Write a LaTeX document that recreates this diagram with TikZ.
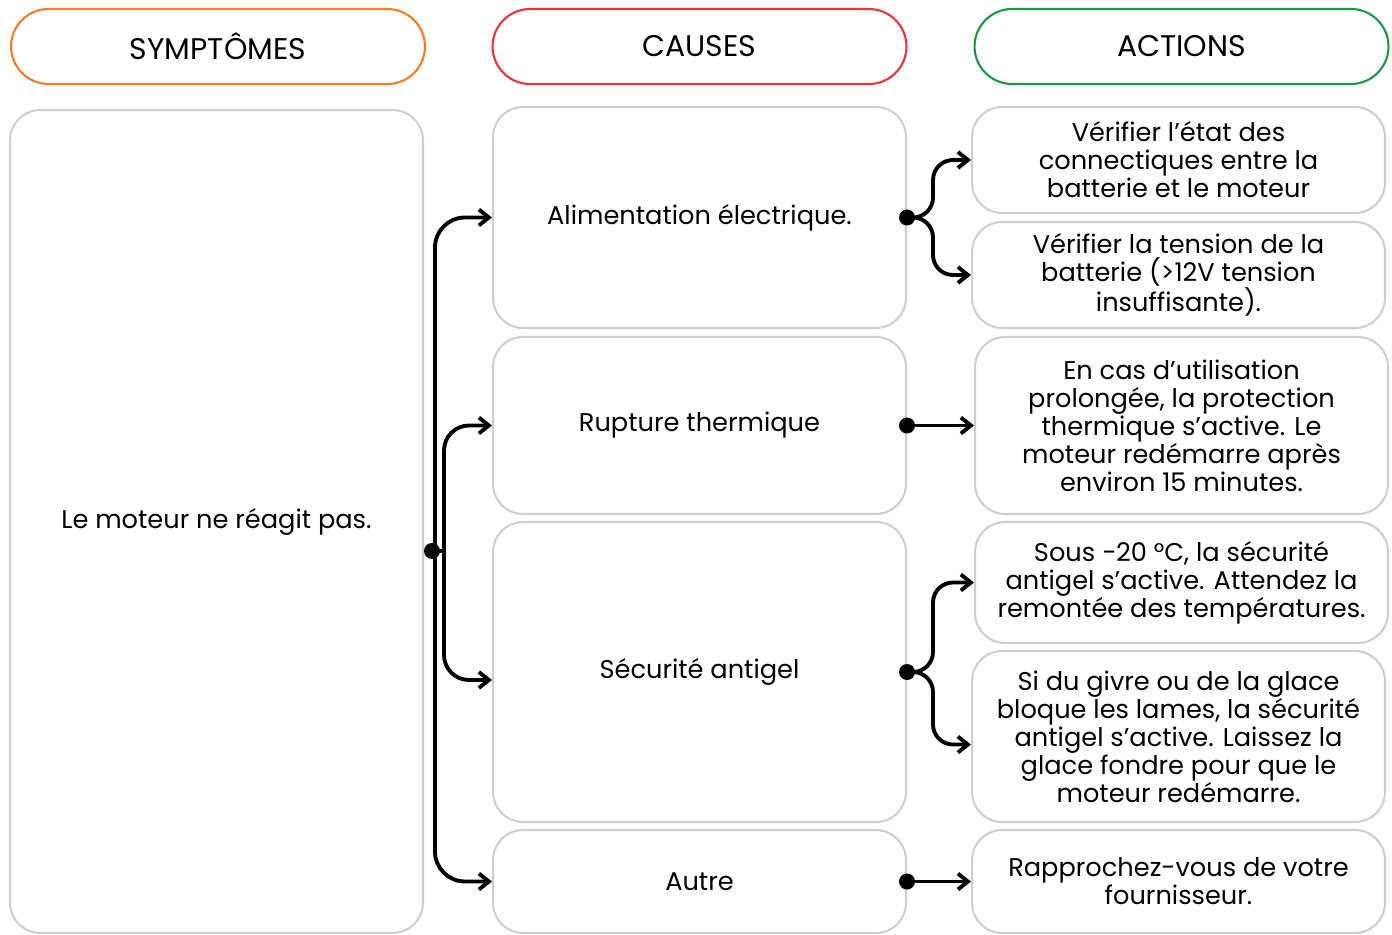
\documentclass[tikz,border=0pt]{standalone}
\usepackage{fontspec}
\setmainfont{Poppins}
\usetikzlibrary{arrows.meta}
\definecolor{symorange}{RGB}{245,125,40}
\definecolor{causered}{RGB}{232,52,58}
\definecolor{actgreen}{RGB}{28,150,72}
\definecolor{boxgrey}{RGB}{205,205,212}

\begin{document}
\begin{tikzpicture}[x=0.02cm,y=-0.02cm,
  txt/.style={font=\fontsize{14.6}{15.9}\selectfont, align=center, inner sep=0pt},
  head/.style={rectangle, font=\fontsize{17}{20}\selectfont, line width=1.2pt, rounded corners=0.75cm, minimum width=8.28cm, minimum height=1.5cm},
  box/.style={txt, rectangle, draw=boxgrey, line width=1.2pt, rounded corners=0.6cm, minimum width=8.26cm},
  dot/.style={circle, fill=black, inner sep=0pt, minimum size=0.32cm},
  link/.style={line width=2.2pt},
  conn/.style={link, -{Straight Barb[length=0.2cm,width=0.32cm]}}]
\useasboundingbox (0,0) rectangle (1392,935);
% column headers
\node (hSym) at (218,46.5) [head, draw=symorange] {SYMPTÔMES};
\node (hCau) at (699.5,46.5) [head, draw=causered] {CAUSES};
\node (hAct) at (1181.5,46.5) [head, draw=actgreen] {ACTIONS};
% symptom
\node (sym) at (216.5,521.5) [box, minimum height=16.46cm] {Le moteur ne réagit pas.};
% causes
\node (alim) at (699.5,217.5) [box, minimum height=4.42cm] {Alimentation électrique.};
\node (rupt) at (699.5,425.5) [box, minimum height=3.54cm] {Rupture thermique};
\node (secu) at (699.5,672) [box, minimum height=6cm] {Sécurité antigel};
\node (autre) at (699.5,881.5) [box, minimum height=2.06cm] {Autre};
% actions
\node (act1) at (1178.5,160) [box, minimum height=2.12cm] {Vérifier l’état des\\connectiques entre la\\batterie et le moteur};
\node (act2) at (1178.5,275) [box, minimum height=2.12cm] {Vérifier la tension de la\\batterie (>12V tension\\insuffisante).};
\node (act3) at (1181.5,425.5) [box, minimum height=3.54cm] {En cas d’utilisation\\prolongée, la protection\\thermique s’active. Le\\moteur redémarre après\\environ 15 minutes.};
\node (act4) at (1181.5,582.5) [box, minimum height=2.42cm] {Sous −20 °C, la sécurité\\antigel s’active. Attendez la\\remontée des températures.};
\node (act5) at (1178.5,736.5) [box, minimum height=3.42cm] {Si du givre ou de la glace\\bloque les lames, la sécurité\\antigel s’active. Laissez la\\glace fondre pour que le\\moteur redémarre.};
\node (act6) at (1178.5,881.5) [box, minimum height=2.06cm] {Rapprochez-vous de votre\\fournisseur.};
% junction points
\node (dSym) at (432,551) [dot] {};
\node (dAlim) at (alim.east) [dot] {};
\node (dRupt) at (rupt.east) [dot] {};
\node (dSecu) at (secu.east) [dot] {};
\node (dAutre) at (autre.east) [dot] {};
\coordinate (busA) at (435,551);
\coordinate (busB) at (444,551);
\coordinate (brAlim) at (933,217.5);
\coordinate (brSecu) at (933,672);
% symptom -> causes
\draw[conn, rounded corners=0.6cm] (busA) |- (alim.west);
\draw[conn, rounded corners=0.6cm] (busA) |- (autre.west);
\draw[link] (dSym.center) -- (busB);
\draw[conn, rounded corners=0.5cm] (busB) |- (rupt.west);
\draw[conn, rounded corners=0.5cm] (busB) |- ([yshift=-0.16cm]secu.west);
% causes -> actions
\draw[conn, rounded corners=0.4cm] (dAlim.center) -- (brAlim) |- (act1.west);
\draw[conn, rounded corners=0.4cm] (dAlim.center) -- (brAlim) |- (act2.west);
\draw[conn] (dRupt.center) -- (act3.west);
\draw[conn, rounded corners=0.4cm] (dSecu.center) -- (brSecu) |- (act4.west);
\draw[conn, rounded corners=0.4cm] (dSecu.center) -- (brSecu) |- ([yshift=-0.16cm]act5.west);
\draw[conn] (dAutre.center) -- (act6.west);
\end{tikzpicture}
\end{document}
